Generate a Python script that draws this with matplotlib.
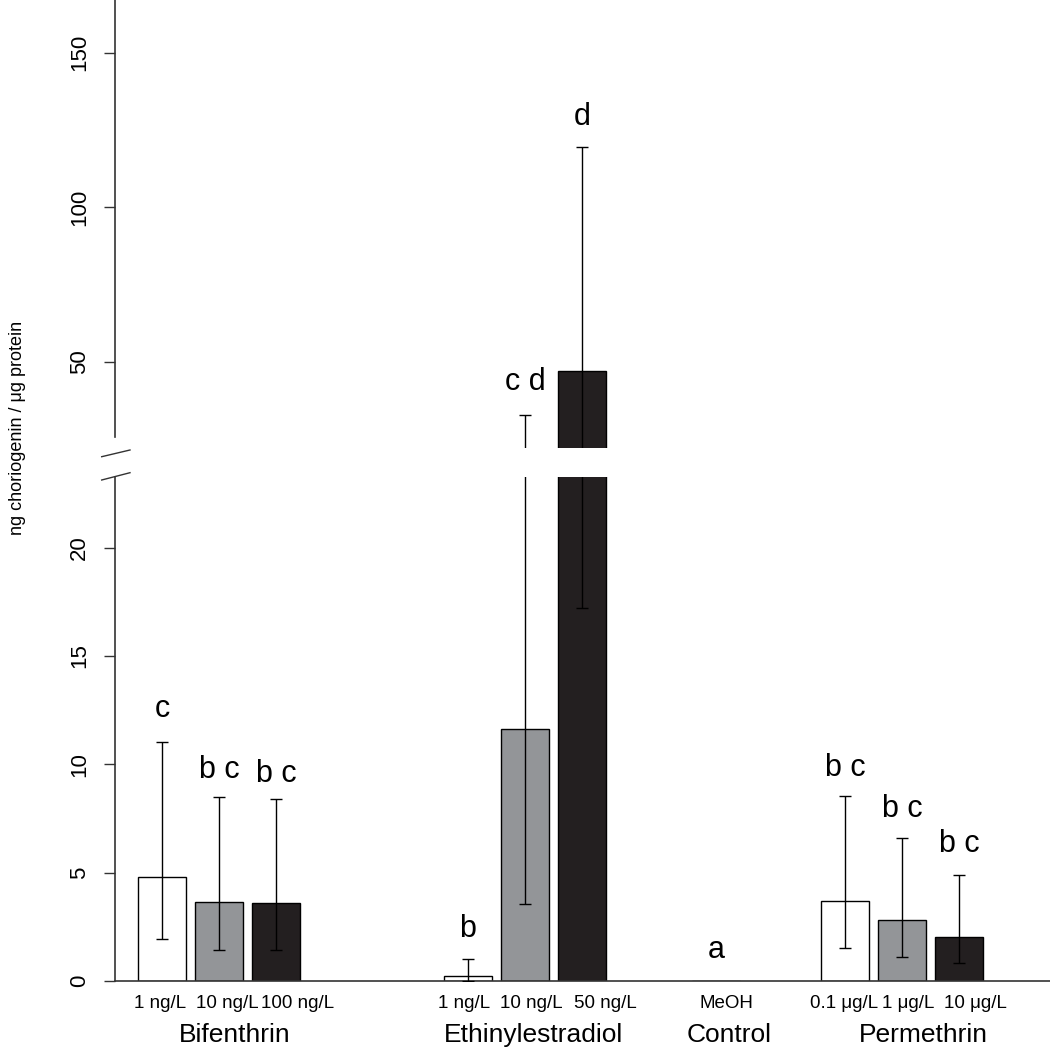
import numpy as np
import matplotlib
matplotlib.use('Agg')
import matplotlib.pyplot as plt
from matplotlib.lines import Line2D

plt.rcParams['font.family'] = ['Liberation Sans', 'DejaVu Sans']

# data
groups = ['Bifenthrin', 'Ethinylestradiol', 'Control', 'Permethrin']
conc_labels = [['1 ng/L', '10 ng/L', '100 ng/L'],
               ['1 ng/L', '10 ng/L', '50 ng/L'],
               ['MeOH'],
               ['0.1 μg/L', '1 μg/L', '10 μg/L']]
means = [[4.81, 3.63, 3.60], [0.22, 11.63, 47.2], [0.0], [3.71, 2.80, 2.04]]
err_low = [[1.95, 1.43, 1.43], [0.0, 3.55, 17.2], [np.nan], [1.51, 1.12, 0.82]]
err_high = [[11.04, 8.50, 8.41], [1.03, 32.9, 119.6], [np.nan], [8.55, 6.58, 4.90]]
letters = [['c', 'b c', 'b c'], ['b', 'c d', 'd'], ['a'], ['b c', 'b c', 'b c']]
letter_y = [[12.18, 9.37, 9.2], [2.04, 40.9, 126.6], [1.05], [9.46, 7.58, 5.97]]

# layout (x in bar-width units)
fills = ['white', '#939598', '#231f20']
group_start = [0.98, 7.35, 12.52, 15.21]
step = 1.19
label_x = [[0.94, 2.33, 3.81], [7.27, 8.67, 10.21], [12.73], [15.19, 16.52, 17.92]]
group_label_x = [2.5, 8.71, 12.79, 16.85]
W, H = 1050, 1047

fig = plt.figure(figsize=(W / 100, H / 100), dpi=100)
ax_lo = fig.add_axes([115 / W, 1 - 981 / H, 1 - 115 / W, (981 - 477) / H])
ax_hi = fig.add_axes([115 / W, 1 - 448 / H, 1 - 115 / W, 448 / H])

lo_lim = (0, 23.26)
hi_lim = (22.2, 167.1)

for gi, g in enumerate(groups):
    xs = [group_start[gi] + step * k for k in range(len(means[gi]))]
    for k, x in enumerate(xs):
        m = means[gi][k]
        for ax in (ax_lo, ax_hi):
            ax.bar(x, m, width=1.0, color=fills[k], edgecolor='black', linewidth=1.0, zorder=2)
            if not np.isnan(err_low[gi][k]):
                ax.errorbar(x, m, yerr=[[m - err_low[gi][k]], [err_high[gi][k] - m]],
                            fmt='none', ecolor='black', elinewidth=1.0, capsize=4,
                            capthick=1.0, zorder=3)
        ly = letter_y[gi][k]
        tax = ax_hi if ly > lo_lim[1] else ax_lo
        tax.text(x, ly, letters[gi][k], ha='center', va='baseline', fontsize=22)
        ax_lo.annotate(conc_labels[gi][k], xy=(label_x[gi][k], 0),
                       xycoords=('data', 'axes fraction'),
                       xytext=(0, -19.4), textcoords='offset points',
                       ha='center', va='baseline', fontsize=13.5)
    ax_lo.annotate(g, xy=(group_label_x[gi], 0), xycoords=('data', 'axes fraction'),
                   xytext=(0, -43.7), textcoords='offset points',
                   ha='center', va='baseline', fontsize=19)

xlim = (0, (W - 115) / 48)
for ax in (ax_lo, ax_hi):
    ax.set_xlim(*xlim)
    ax.set_xticks([])
    ax.spines['top'].set_visible(False)
    ax.spines['right'].set_visible(False)
    ax.spines['left'].set_linewidth(1.2)
    ax.spines['left'].set_color('#333333')
    ax.tick_params(axis='y', length=8, width=1.0, color='#333333', pad=10,
                   labelsize=16, labelrotation=90)
    ax.patch.set_visible(False)

ax_lo.set_ylim(*lo_lim)
ax_lo.set_yticks([0, 5, 10, 15, 20])
ax_lo.spines['bottom'].set_linewidth(1.2)
ax_lo.spines['bottom'].set_color('#333333')

ax_hi.set_ylim(*hi_lim)
ax_hi.set_yticks([50, 100, 150])
ax_hi.spines['bottom'].set_visible(False)
ax_hi.spines['left'].set_bounds(25.8, hi_lim[1])

for ax in (ax_lo, ax_hi):
    for lab in ax.get_yticklabels():
        lab.set_va('center')

# axis break marks
for y0, y1 in [(456.7, 450.0), (480.0, 472.7)]:
    fig.add_artist(Line2D([101.7 / W, 130 / W], [1 - y0 / H, 1 - y1 / H],
                          color='#333333', linewidth=1.0))

fig.text(18 / W, 1 - 428 / H, 'ng choriogenin / μg protein', rotation=90,
         ha='center', va='center', fontsize=13)

fig.savefig('out.png', dpi=100)
